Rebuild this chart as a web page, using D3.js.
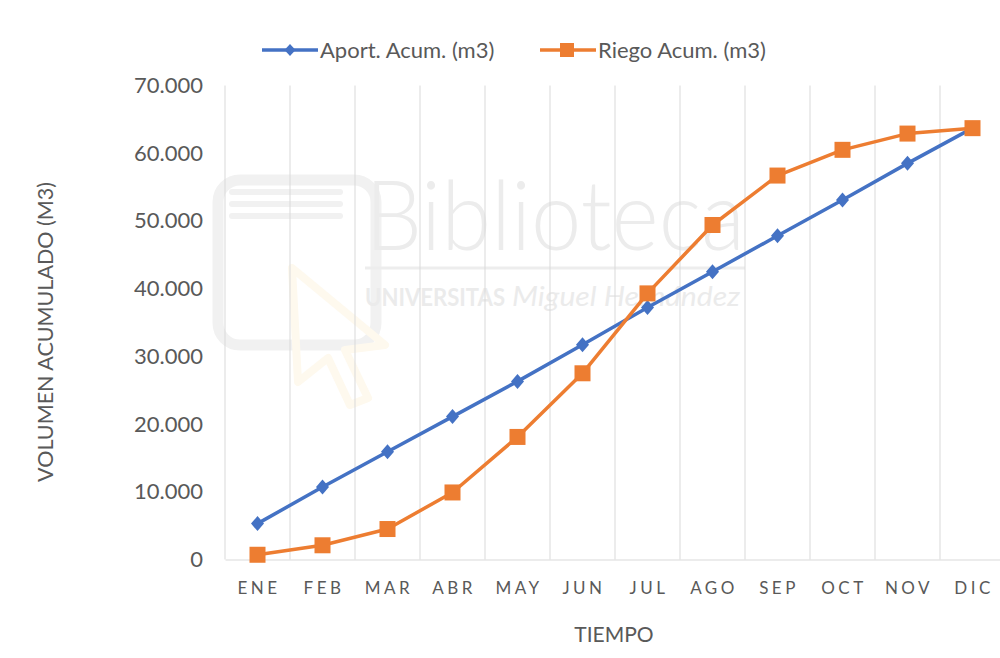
<!DOCTYPE html>
<html><head><meta charset="utf-8">
<script src="https://cdn.jsdelivr.net/npm/d3@7"></script>
<style>body{margin:0;background:#fff;overflow:hidden}svg{display:block}text{font-family:Lato,"Open Sans",sans-serif}</style>
</head><body>
<script>
const months = ["ENE","FEB","MAR","ABR","MAY","JUN","JUL","AGO","SEP","OCT","NOV","DIC"];
const aport = [5300,10700,15900,21100,26300,31700,37200,42500,47800,53100,58500,63700];
const riego = [700,2100,4500,9900,18100,27500,39300,49400,56700,60500,62900,63700];
const yTicks = [0,10000,20000,30000,40000,50000,60000,70000];
const seriesNames = ["Aport. Acum. (m3)","Riego Acum. (m3)"];

const W=1000,H=658;
const svg=d3.select("body").append("svg").attr("width",W).attr("height",H);

// watermark
const wm=svg.append("g");
wm.append("rect").attr("x",218).attr("y",180).attr("width",158).attr("height",165).attr("rx",22).attr("fill","none").attr("stroke","#f1f1f1").attr("stroke-width",11);
[192,204,216].forEach(yy=>wm.append("line").attr("x1",232).attr("x2",340).attr("y1",yy).attr("y2",yy).attr("stroke","#f1f1f1").attr("stroke-width",6).attr("stroke-linecap","round"));
wm.append("path").attr("d","M292,268 L385,345 L345,350 L368,398 L350,405 L328,358 L298,382 Z").attr("fill","none").attr("stroke","#fef9ee").attr("stroke-width",8).attr("stroke-linejoin","round");
wm.append("text").attr("x",365).attr("y",250).attr("font-size",96).attr("font-weight",300).attr("fill","#ececec").attr("textLength",380).attr("lengthAdjust","spacingAndGlyphs").text("Biblioteca");
wm.append("line").attr("x1",365).attr("x2",745).attr("y1",268).attr("y2",268).attr("stroke","#ededed").attr("stroke-width",3);
wm.append("text").attr("x",365).attr("y",306).attr("font-size",24).attr("font-weight","bold").attr("fill","#ebebeb").attr("textLength",140).attr("lengthAdjust","spacingAndGlyphs").text("UNIVERSITAS");
wm.append("text").attr("x",512).attr("y",306).attr("font-size",27).attr("font-style","italic").attr("font-family","Liberation Serif").attr("fill","#ebebeb").attr("textLength",228).attr("lengthAdjust","spacingAndGlyphs").text("Miguel Hernández");

const x=d3.scaleBand().domain(months).range([225,1005]);
const y=d3.scaleLinear().domain([0,70000]).range([559.5,85.5]);
const fmt=d=>d===0?"0":d3.format(",")(d).replace(/,/g,".");

// vertical gridlines
svg.append("g").selectAll("line").data(months).join("line")
  .attr("x1",d=>x(d)+x.bandwidth()).attr("x2",d=>x(d)+x.bandwidth())
  .attr("y1",y(70000)).attr("y2",y(0)).attr("stroke","#d9d9d9").attr("stroke-width",1);
svg.append("line").attr("x1",225).attr("x2",225).attr("y1",y(70000)).attr("y2",y(0)).attr("stroke","#d9d9d9");

// x axis
const xa=svg.append("g").attr("transform",`translate(0,${y(0)})`).call(d3.axisBottom(x).tickSize(0).tickPadding(22));
xa.select(".domain").attr("stroke","#d9d9d9");
xa.selectAll("text").attr("font-size",17).attr("fill","#595959").attr("letter-spacing","3.5px").attr("dx","1.5");

// y axis
const ya=svg.append("g").attr("transform","translate(203,0)").call(d3.axisLeft(y).tickValues(yTicks).tickFormat(fmt).tickSize(0).tickPadding(0));
ya.select(".domain").remove();
ya.selectAll("text").attr("font-size",22).attr("fill","#595959");

// titles
svg.append("text").attr("x",614).attr("y",642).attr("text-anchor","middle").attr("font-size",21).attr("fill","#595959").text("TIEMPO");
svg.append("text").attr("transform","translate(53,332) rotate(-90)").attr("text-anchor","middle").attr("font-size",21.5).attr("fill","#595959").text("VOLUMEN ACUMULADO (M3)");

const cx=d=>x(d)+x.bandwidth()/2;
const line=d3.line().x((d,i)=>cx(months[i])).y(d=>y(d));
const colors=["#4472C4","#ED7D31"];
[aport,riego].forEach((s,k)=>{
  svg.append("path").datum(s).attr("d",line).attr("fill","none").attr("stroke",colors[k]).attr("stroke-width",3.5).attr("stroke-linejoin","round");
});
const diamond="M0,-7.5L6.5,0L0,7.5L-6.5,0Z";
svg.append("g").selectAll("path").data(aport).join("path")
  .attr("d",diamond).attr("transform",(d,i)=>`translate(${cx(months[i])},${y(d)})`).attr("fill",colors[0]);
svg.append("g").selectAll("rect").data(riego).join("rect")
  .attr("x",(d,i)=>cx(months[i])-8).attr("y",d=>y(d)-8).attr("width",16).attr("height",16).attr("fill",colors[1]);

// legend
const lg=svg.append("g");
lg.append("line").attr("x1",262).attr("x2",318).attr("y1",50).attr("y2",50).attr("stroke",colors[0]).attr("stroke-width",3.5);
lg.append("path").attr("d","M0,-6L5.5,0L0,6L-5.5,0Z").attr("transform","translate(290,50)").attr("fill",colors[0]);
lg.append("text").attr("x",320).attr("y",58).attr("font-size",22).attr("fill","#595959").text(seriesNames[0]);
lg.append("line").attr("x1",540).attr("x2",596).attr("y1",50).attr("y2",50).attr("stroke",colors[1]).attr("stroke-width",3.5);
lg.append("rect").attr("x",560).attr("y",43).attr("width",14).attr("height",14).attr("fill",colors[1]);
lg.append("text").attr("x",598).attr("y",58).attr("font-size",22).attr("fill","#595959").text(seriesNames[1]);
</script>
</body></html>
